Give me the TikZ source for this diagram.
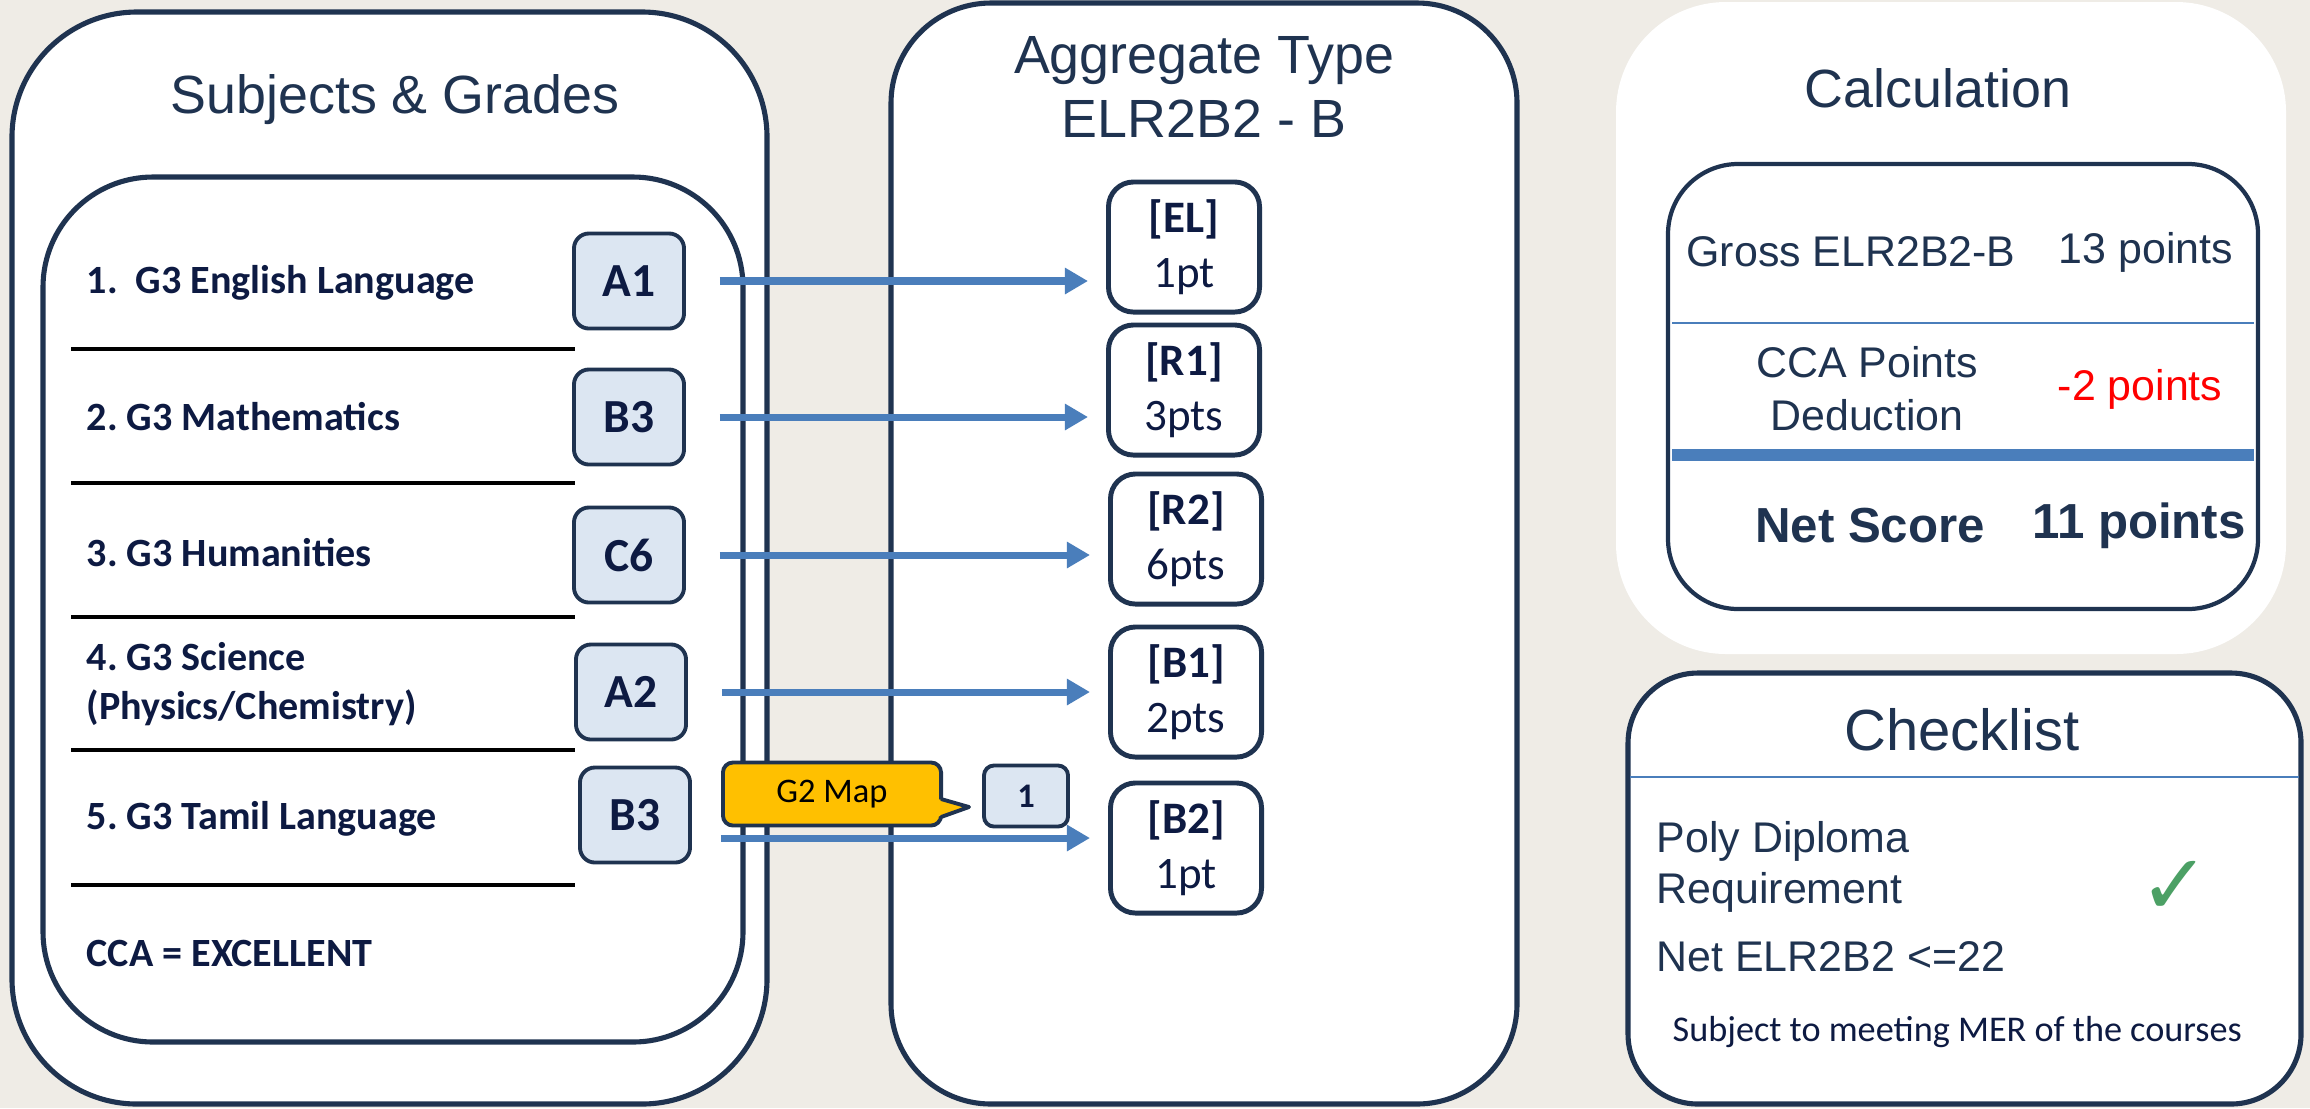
\documentclass[tikz,border=0pt]{standalone}
\usepackage{fontspec}
\setmainfont{Liberation Sans}
\newfontfamily\calibri{Carlito}
\newfontfamily\symfont{DejaVu Sans}
\usetikzlibrary{arrows.meta}
\frenchspacing

\definecolor{bgbeige}{RGB}{239,236,230}
\definecolor{navy}{RGB}{31,51,80}
\definecolor{inkblue}{RGB}{13,26,66}
\definecolor{gradefill}{RGB}{220,230,242}
\definecolor{arrowblue}{RGB}{74,126,187}
\definecolor{mapyellow}{RGB}{255,192,0}
\definecolor{tickgreen}{RGB}{76,160,101}

\begin{document}
\begin{tikzpicture}[
        x=0.01cm, y=-0.01cm,
        panel/.style={draw=navy, line width=1.45pt, fill=white},
        grade/.style={draw=navy, line width=1.1pt, fill=gradefill, rounded corners=0.15cm, minimum width=1.1cm, minimum height=0.95cm, inner sep=0pt, text=inkblue, font=\calibri\bfseries\fontsize{13.5}{16}\selectfont},
        subject/.style={anchor=west, inner sep=0pt, align=left, text=inkblue, font=\calibri\bfseries\fontsize{11.4}{13.7}\selectfont},
        aggbox/.style={draw=navy, line width=1.4pt, fill=white, rounded corners=0.25cm, minimum width=1.51cm, minimum height=1.3cm, inner sep=0pt, align=center, text=inkblue, font=\calibri\fontsize{12.8}{15.6}\selectfont},
        title/.style={text=navy, align=center, font=\fontsize{15.3}{18}\selectfont},
        calc/.style={text=navy, align=center, font=\fontsize{12.2}{15}\selectfont},
        item/.style={anchor=west, inner sep=0pt, align=left, text=navy, font=\fontsize{12.2}{14.5}\selectfont},
        link/.style={draw=arrowblue, line width=2pt, -{Triangle[length=0.23cm, width=0.25cm]}, shorten >=0.18cm},
        sep/.style={line width=0.9pt, black}
    ]
        % Background
        \fill[bgbeige] (0,0) rectangle (2310,1108);
        \useasboundingbox (0,0) rectangle (2310,1108);

        % Panels
        \draw[panel, rounded corners=1.25cm] (12,12) rectangle (767,1104);
        \draw[panel, rounded corners=1.1cm] (43,177) rectangle (743,1042);
        \draw[panel, rounded corners=1.0cm] (891,3) rectangle (1517,1104);
        \fill[white, rounded corners=1.1cm] (1616,2) rectangle (2286,654);
        \draw[navy, line width=1.2pt, fill=white, rounded corners=0.7cm] (1668,164) rectangle (2258,609);
        \draw[panel, rounded corners=0.7cm] (1628,673) rectangle (2301,1104);

        % Titles
        \node[title] (subjtitle) at (395,100) {Subjects \& Grades};
        \node[title] (aggtitle) at (1204,87) {Aggregate Type\\ELR2B2 - B};
        \node[title] (calctitle) at (1938,88) {Calculation};
        \node[title, font=\fontsize{16.5}{20}\selectfont] (chktitle) at (1962,730) {Checklist};

        % Subjects
        \node[subject] (s1) at (86,283) {1.\ \ G3 English Language};
        \node[subject] (s2) at (86,417) {2. G3 Mathematics};
        \node[subject] (s3) at (86,553) {3. G3 Humanities};
        \node[subject] (s4) at (86,684) {4. G3 Science\\(Physics/Chemistry)};
        \node[subject] (s5) at (86,819) {5. G3 Tamil Language};
        \node[subject] (cca) at (86,953) {CCA = EXCELLENT};

        \draw[sep] (71,349) -- (575,349);
        \draw[sep] (71,483) -- (575,483);
        \draw[sep] (71,617) -- (575,617);
        \draw[sep] (71,750) -- (575,750);
        \draw[sep] (71,885) -- (575,885);

        % Grades
        \node[grade] (g1) at (629,281) {A1};
        \node[grade] (g2) at (629,417) {B3};
        \node[grade] (g3) at (629,555) {C6};
        \node[grade] (g4) at (631,692) {A2};
        \node[grade] (g5) at (635,815) {B3};

        % Aggregate slots
        \node[aggbox] (el) at (1184,247) {\textbf{[EL]}\\1pt};
        \node[aggbox] (r1) at (1184,390) {\textbf{[R1]}\\3pts};
        \node[aggbox] (r2) at (1186,539) {\textbf{[R2]}\\6pts};
        \node[aggbox] (b1) at (1186,692) {\textbf{[B1]}\\2pts};
        \node[aggbox] (b2) at (1186,848) {\textbf{[B2]}\\1pt};

        % Arrows
        \draw[link] ([xshift=0.34cm]g1.east) -- (g1 -| el.west);
        \draw[link] ([xshift=0.34cm]g2.east) -- (g2 -| r1.west);
        \draw[link] ([xshift=0.34cm]g3.east) -- (g3 -| r2.west);
        \draw[link] ([xshift=0.34cm]g4.east) -- (g4 -| b1.west);
        \coordinate (m5) at ([xshift=0.29cm, yshift=-0.23cm]g5.east);
        \draw[link] (m5) -- (m5 -| b2.west);

        % G2 map callout
        \node[draw=navy, line width=1.1pt, fill=mapyellow, rounded corners=0.1cm, minimum width=2.18cm, minimum height=0.63cm, inner sep=0pt, font=\calibri\fontsize{9.8}{12}\selectfont] (g2map) at (832,794) {G2 Map};
        \fill[mapyellow] (930,797) -- (969,807) -- (930,819) -- cycle;
        \draw[navy, line width=1.1pt, line join=round] (941,799) -- (969,807) -- (941,817);
        \node[grade, minimum width=0.84cm, minimum height=0.61cm, rounded corners=0.1cm, font=\calibri\bfseries\fontsize{9.8}{12}\selectfont] (g2pt) at (1026,796) {1};

        % Calculation
        \node[calc] (gross) at (1851,252) {Gross ELR2B2-B};
        \node[calc] (grossval) at (2146,252) {13 points};
        \draw[arrowblue, line width=0.6pt] (1672,323) -- (2254,323);
        \node[calc] (ccaded) at (1867,389) {CCA Points\\Deduction};
        \node[calc, text=red] (ccaval) at (2140,389) {-2 points};
        \draw[arrowblue, line width=3.6pt] (1672,455) -- (2254,455);
        \node[calc, font=\bfseries\fontsize{14}{17}\selectfont] (net) at (1870,526) {Net Score};
        \node[calc, font=\bfseries\fontsize{14}{17}\selectfont] (netval) at (2139,526) {11 points};

        % Checklist
        \draw[arrowblue, line width=0.7pt] (1630,777) -- (2299,777);
        \node[item] (poly) at (1656,867) {Poly Diploma\\Requirement};
        \node[item] (netcap) at (1656,957) {Net ELR2B2 <=22};
        \node[anchor=west, inner sep=0pt, text=inkblue, font=\calibri\fontsize{10.3}{12}\selectfont] (mer) at (1672,1032) {Subject to meeting MER of the courses};
        \node[text=tickgreen, font=\symfont\bfseries\fontsize{24}{24}\selectfont] (tick) at (2175,888) {✓};
    \end{tikzpicture}
\end{document}
